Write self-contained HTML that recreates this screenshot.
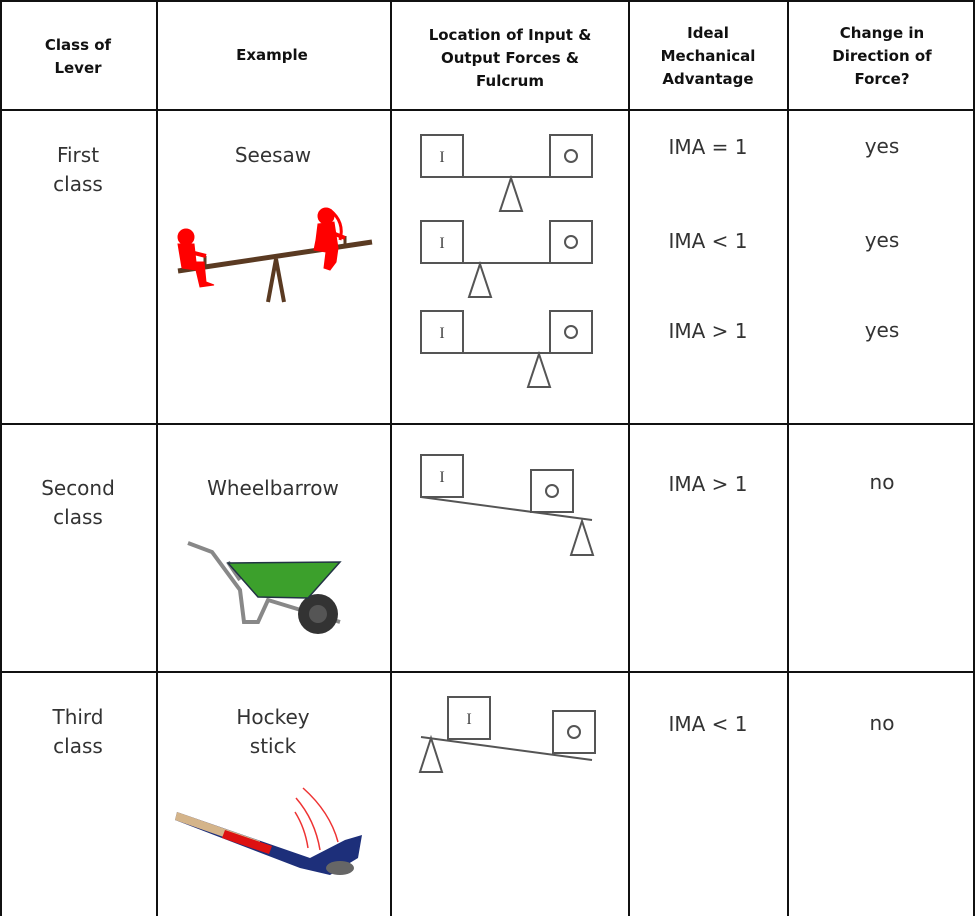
<!DOCTYPE html>
<html><head><meta charset="utf-8"><style>
html,body{margin:0;padding:0;background:#fff;}
svg{display:block;}
.h{font-family:"DejaVu Sans","Liberation Sans",sans-serif;font-weight:bold;font-size:15px;fill:#111;text-anchor:middle;}
.t{font-family:"DejaVu Sans","Liberation Sans",sans-serif;font-size:20px;fill:#333;text-anchor:middle;}
.d{fill:#fff;stroke:#555;stroke-width:2;}
.dl{stroke:#555;stroke-width:2;fill:none;}
.lt{font-family:"Liberation Serif",serif;font-size:16px;fill:#444;text-anchor:middle;}
</style></head><body>
<svg width="975" height="916" viewBox="0 0 975 916">
<g stroke="#111" stroke-width="2">
<line x1="1" y1="0" x2="1" y2="916"/><line x1="157" y1="0" x2="157" y2="916"/>
<line x1="391" y1="0" x2="391" y2="916"/><line x1="629" y1="0" x2="629" y2="916"/>
<line x1="788" y1="0" x2="788" y2="916"/><line x1="974" y1="0" x2="974" y2="916"/>
<line x1="0" y1="1" x2="975" y2="1"/><line x1="0" y1="110" x2="975" y2="110"/>
<line x1="0" y1="424" x2="975" y2="424"/><line x1="0" y1="672" x2="975" y2="672"/>
</g>
<g>
<text class="h" x="78" y="50">Class of</text><text class="h" x="78" y="73">Lever</text>
<text class="h" x="272" y="60">Example</text>
<text class="h" x="510" y="40">Location of Input &amp;</text><text class="h" x="510" y="63">Output Forces &amp;</text><text class="h" x="510" y="86">Fulcrum</text>
<text class="h" x="708" y="38">Ideal</text><text class="h" x="708" y="61">Mechanical</text><text class="h" x="708" y="84">Advantage</text>
<text class="h" x="882" y="38">Change in</text><text class="h" x="882" y="61">Direction of</text><text class="h" x="882" y="84">Force?</text>
</g>
<g>
<text class="t" x="78" y="162">First</text><text class="t" x="78" y="191">class</text>
<text class="t" x="273" y="162">Seesaw</text>
<text class="t" x="708" y="154">IMA = 1</text><text class="t" x="708" y="248">IMA &lt; 1</text><text class="t" x="708" y="338">IMA &gt; 1</text>
<text class="t" x="882" y="153">yes</text><text class="t" x="882" y="247">yes</text><text class="t" x="882" y="337">yes</text>
<g>
<line x1="178" y1="271" x2="372" y2="242" stroke="#5a3a22" stroke-width="5"/>
<path d="M268 302 L276 259 L284 302" stroke="#5a3a22" stroke-width="4" fill="none"/>
<line x1="205" y1="256" x2="205" y2="266" stroke="#5a3a22" stroke-width="3"/>
<line x1="345" y1="236" x2="345" y2="246" stroke="#5a3a22" stroke-width="3"/>
<g fill="#f00" stroke="#f00">
<circle cx="186" cy="237" r="8"/>
<path d="M178 244 L194 244 L196 262 L204 262 L206 282 L214 285 L200 287 L196 270 L182 268 Z"/>
<line x1="190" y1="252" x2="206" y2="256" stroke-width="4"/>
<circle cx="326" cy="216" r="8"/>
<path d="M318 224 L334 222 L338 248 L336 262 L330 270 L324 268 L326 252 L314 250 L316 240 Z"/>
<path d="M330 210 Q345 222 340 240" stroke-width="3" fill="none"/>
<line x1="330" y1="232" x2="345" y2="238" stroke-width="4"/>
</g>
</g>
<g>
<rect class="d" x="421" y="135" width="42" height="42"/><rect class="d" x="550" y="135" width="42" height="42"/>
<line class="dl" x1="463" y1="177" x2="550" y2="177"/><path class="d" d="M511 178 L500 211 L522 211 Z"/>
<text class="lt" x="442" y="162">I</text><circle cx="571" cy="156" r="6" class="dl"/></g>
<g>
<rect class="d" x="421" y="221" width="42" height="42"/><rect class="d" x="550" y="221" width="42" height="42"/>
<line class="dl" x1="463" y1="263" x2="550" y2="263"/><path class="d" d="M480 264 L469 297 L491 297 Z"/>
<text class="lt" x="442" y="248">I</text><circle cx="571" cy="242" r="6" class="dl"/></g>
<g>
<rect class="d" x="421" y="311" width="42" height="42"/><rect class="d" x="550" y="311" width="42" height="42"/>
<line class="dl" x1="463" y1="353" x2="550" y2="353"/><path class="d" d="M539 354 L528 387 L550 387 Z"/>
<text class="lt" x="442" y="338">I</text><circle cx="571" cy="332" r="6" class="dl"/></g>
</g>
<g>
<text class="t" x="78" y="495">Second</text><text class="t" x="78" y="524">class</text>
<text class="t" x="273" y="495">Wheelbarrow</text>
<text class="t" x="708" y="491">IMA &gt; 1</text><text class="t" x="882" y="489">no</text>
<g>
<path d="M188 543 L212 552 L240 590 L244 622 L258 622 L268 600 L340 622" stroke="#888" stroke-width="4" fill="none"/>
<path d="M228 562 L240 580" stroke="#888" stroke-width="4"/>
<circle cx="318" cy="614" r="20" fill="#333"/><circle cx="318" cy="614" r="9" fill="#555"/>
<path d="M228 563 L340 562 L308 598 L258 597 Z" fill="#3ca02c" stroke="#234" stroke-width="1.5"/>
</g>
<g>
<line class="dl" x1="421" y1="497" x2="592" y2="520"/>
<rect class="d" x="421" y="455" width="42" height="42"/><rect class="d" x="531" y="470" width="42" height="42"/>
<path class="d" d="M582 521 L571 555 L593 555 Z"/>
<text class="lt" x="442" y="482">I</text><circle cx="552" cy="491" r="6" class="dl"/></g>
</g>
<g>
<text class="t" x="78" y="724">Third</text><text class="t" x="78" y="753">class</text>
<text class="t" x="273" y="724">Hockey</text><text class="t" x="273" y="753">stick</text>
<text class="t" x="708" y="731">IMA &lt; 1</text><text class="t" x="882" y="730">no</text>
<g>
<path d="M177 812 L310 858 L345 840 L362 835 L358 858 L330 875 L300 868 L175 820 Z" fill="#1d2f7a"/>
<path d="M177 812 L260 841 L258 849 L175 820 Z" fill="#d4b48a"/>
<path d="M225 830 L272 846 L269 854 L222 838 Z" fill="#d11"/>
<ellipse cx="340" cy="868" rx="14" ry="7" fill="#666"/>
<path d="M296 798 Q315 820 320 850 M303 788 Q330 812 338 842 M295 812 Q305 828 308 848" stroke="#e33" stroke-width="1.5" fill="none"/>
</g>
<g>
<line class="dl" x1="421" y1="737" x2="592" y2="760"/>
<rect class="d" x="448" y="697" width="42" height="42"/><rect class="d" x="553" y="711" width="42" height="42"/>
<path class="d" d="M431 738 L420 772 L442 772 Z"/>
<text class="lt" x="469" y="724">I</text><circle cx="574" cy="732" r="6" class="dl"/></g>
</g>
</svg>
</body></html>
